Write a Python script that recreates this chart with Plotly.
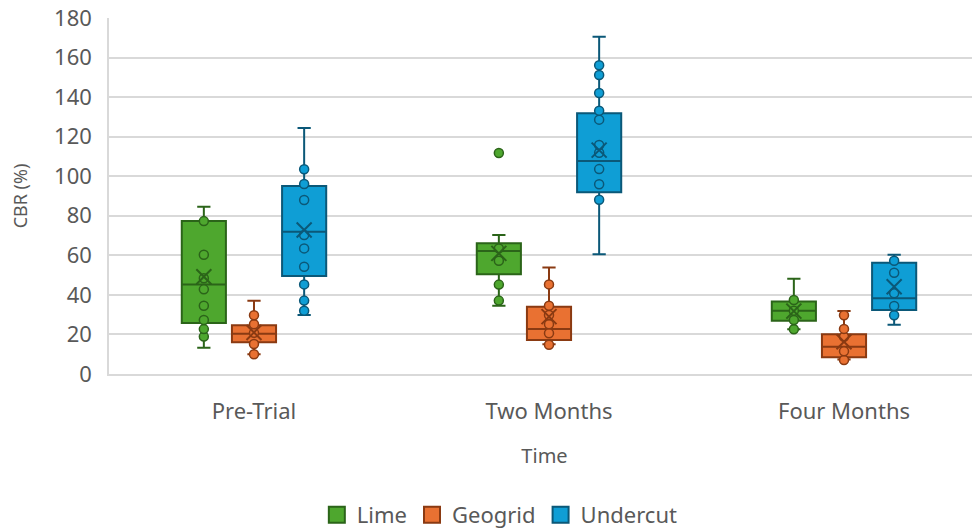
import plotly.graph_objects as go

categories = ["Pre-Trial", "Two Months", "Four Months"]
series_names = ["Lime", "Geogrid", "Undercut"]

# Lime
lime_q1 = [25.8, 50.4, 26.9]
lime_median = [45.2, 62.2, 32.0]
lime_q3 = [77.3, 66.1, 36.6]
lime_low = [13.3, 34.5, 22.6]
lime_high = [84.6, 70.3, 48.2]
lime_mean = [49.2, 61.0, 31.8]
lime_points = [
    [77.3, 60.3, 48.4, 42.8, 34.5, 27.3, 22.7, 18.9],
    [111.7, 63.5, 57.3, 45.2, 37.1],
    [37.4, 32.0, 27.3, 22.6],
]

# Geogrid
geo_q1 = [16.0, 17.2, 8.5]
geo_median = [20.3, 22.8, 13.8]
geo_q3 = [24.7, 34.0, 20.1]
geo_low = [10.0, 15.0, 7.3]
geo_high = [37.0, 53.9, 31.9]
geo_mean = [21.0, 29.0, 16.3]
geo_points = [
    [29.7, 25.2, 20.8, 15.2, 10.0],
    [45.3, 34.5, 29.8, 25.1, 20.6, 14.8],
    [29.7, 22.8, 18.8, 11.5, 7.1],
]

# Undercut
und_q1 = [49.5, 91.9, 32.4]
und_median = [71.9, 107.7, 38.3]
und_q3 = [95.0, 131.8, 56.3]
und_low = [29.8, 60.5, 24.9]
und_high = [124.4, 170.5, 60.3]
und_mean = [72.8, 113.2, 44.1]
und_points = [
    [103.5, 96.1, 88.0, 70.3, 63.5, 54.2, 45.3, 37.1, 32.0],
    [156.1, 151.2, 142.1, 133.1, 128.6, 115.8, 111.9, 103.6, 95.9, 88.1],
    [57.3, 51.2, 40.8, 34.4, 29.7],
]

y_ticks = [0, 20, 40, 60, 80, 100, 120, 140, 160, 180]

fills = ["#4EA72E", "#E97132", "#0F9ED5"]
edges = ["#2B6419", "#8A3A12", "#0B5878"]

stats = [
    (lime_q1, lime_median, lime_q3, lime_low, lime_high, lime_mean, lime_points),
    (geo_q1, geo_median, geo_q3, geo_low, geo_high, geo_mean, geo_points),
    (und_q1, und_median, und_q3, und_low, und_high, und_mean, und_points),
]

fig = go.Figure()
for name, fill, edge, (q1, med, q3, lo, hi, mn, pts) in zip(series_names, fills, edges, stats):
    fig.add_trace(go.Box(
        name=name,
        x=categories,
        y=pts,
        q1=q1, median=med, q3=q3,
        lowerfence=lo, upperfence=hi,
        boxpoints="all", jitter=0, pointpos=0,
        fillcolor=fill,
        line=dict(color=edge, width=2),
        whiskerwidth=0.3,
        marker=dict(color=fill, size=9, line=dict(color=edge, width=1.5)),
        offsetgroup=name,
        legendgroup=name,
        showlegend=False,
        hoverinfo="y",
    ))
for name, fill, edge, (q1, med, q3, lo, hi, mn, pts) in zip(series_names, fills, edges, stats):
    fig.add_trace(go.Scatter(
        name=name + " mean",
        x=categories,
        y=mn,
        mode="markers",
        marker=dict(symbol="x-thin", size=15, color=edge, line=dict(color=edge, width=2)),
        offsetgroup=name,
        legendgroup=name,
        showlegend=False,
        hoverinfo="y",
    ))
# legend swatches (square keys as in the reference)
for name, fill, edge in zip(series_names, fills, edges):
    fig.add_trace(go.Scatter(
        name=name,
        x=[None], y=[None],
        mode="markers",
        marker=dict(symbol="square", size=19, color=fill, line=dict(color=edge, width=2)),
        legendgroup=name,
        showlegend=True,
    ))

font_family = "Noto Sans, Open Sans, DejaVu Sans, sans-serif"
# the page body adds an 8px margin, so the figure is sized to fill the rest of the window
fig.update_layout(
    width=972, height=521,
    margin=dict(l=101, r=0, t=10, b=155, autoexpand=False),
    paper_bgcolor="white", plot_bgcolor="white",
    boxmode="group", boxgap=0.49, boxgroupgap=0.12,
    scattermode="group", scattergap=0.49,
    font=dict(family=font_family, color="#595959", size=21),
    showlegend=True,
    legend=dict(orientation="h", xref="container", yref="container",
                x=0.506, xanchor="center", y=0.027, yanchor="middle",
                font=dict(size=22, color="#595959"), itemwidth=30,
                traceorder="normal", tracegroupgap=0),
    xaxis=dict(
        type="category", automargin=False,
        range=[-0.4915, 2.461],
        showgrid=False, showline=True, linecolor="#D9D9D9", linewidth=1.5,
        ticks="", ticklabelstandoff=17,
        tickfont=dict(size=22, color="#595959"),
        title=dict(text="Time", font=dict(size=20, color="#595959"), standoff=25),
    ),
    yaxis=dict(
        automargin=False,
        range=[0, 180], tickvals=y_ticks,
        showgrid=True, gridcolor="#D9D9D9", gridwidth=1.5,
        showline=True, linecolor="#D9D9D9", linewidth=1.5,
        zeroline=False, ticks="", ticklabelstandoff=11,
        ticklabeloverflow="allow",
        tickfont=dict(size=22, color="#595959"),
        title=dict(text="CBR (%)", font=dict(size=18, color="#595959"), standoff=22),
    ),
)

fig.write_html("out.html")
